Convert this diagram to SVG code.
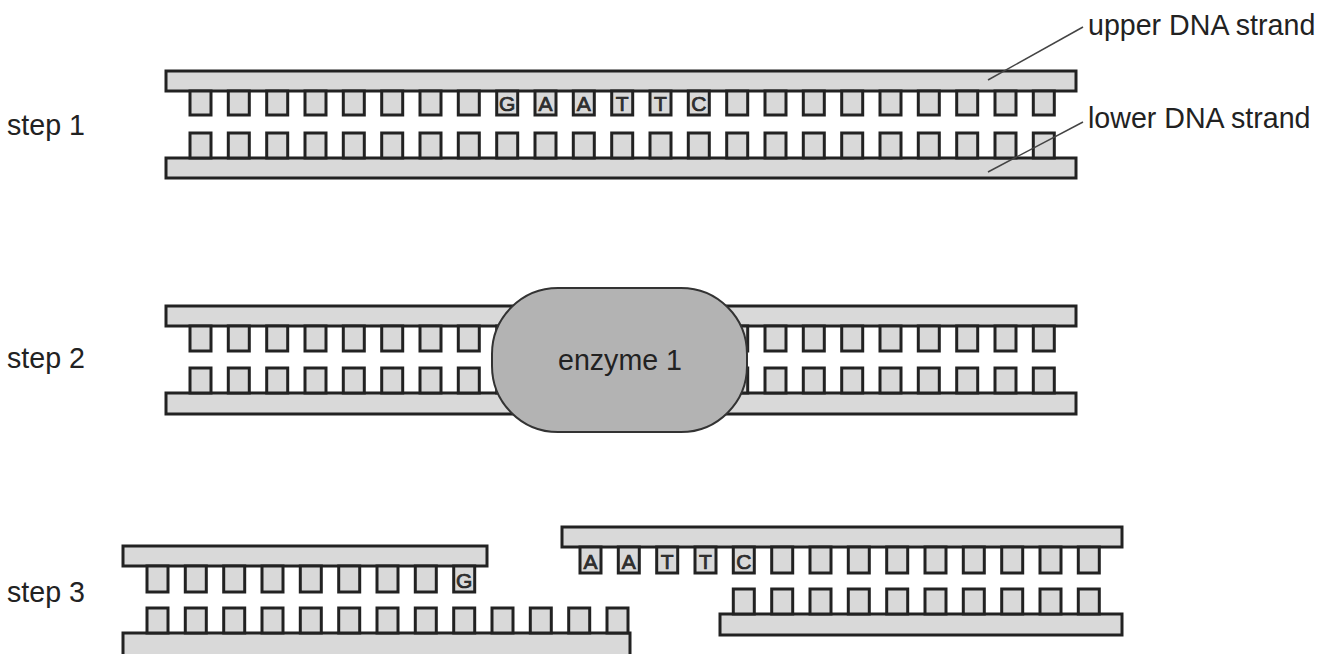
<svg xmlns="http://www.w3.org/2000/svg" width="1321" height="654" viewBox="0 0 1321 654">
<style>
.s{fill:#d9d9d9;stroke:#222;stroke-width:3}
.lbl{font-family:"Liberation Sans",Arial,sans-serif;font-size:28.6px;fill:#222}
.let{font-family:"Liberation Sans",Arial,sans-serif;font-size:21px;fill:#333;stroke:#222;stroke-width:0.7;text-anchor:middle}
.ld{stroke:#444;stroke-width:1.5;fill:none}
</style>
<defs>
<rect id="bu" class="s" x="0" y="0" width="21" height="24"/>
<rect id="bl" class="s" x="0" y="0" width="21" height="25"/>
</defs>
<rect x="0" y="0" width="1321" height="654" fill="#fff"/>

<g id="labels">
<text class="lbl" x="7" y="135">step 1</text>
<text class="lbl" x="7" y="368">step 2</text>
<text class="lbl" x="7" y="602">step 3</text>
<text class="lbl" x="1088" y="35">upper DNA strand</text>
<text class="lbl" x="1088" y="128">lower DNA strand</text>
</g>

<g id="step1">
<rect class="s" x="166" y="71" width="910" height="20"/>
<rect class="s" x="166" y="158" width="910" height="20"/>
<g transform="translate(0,91)">
<use href="#bu" x="190"/><use href="#bu" x="228.3"/><use href="#bu" x="266.7"/><use href="#bu" x="305"/><use href="#bu" x="343.3"/><use href="#bu" x="381.7"/><use href="#bu" x="420"/><use href="#bu" x="458.3"/><use href="#bu" x="496.7"/><use href="#bu" x="535"/><use href="#bu" x="573.3"/><use href="#bu" x="611.7"/><use href="#bu" x="650"/><use href="#bu" x="688.3"/><use href="#bu" x="726.7"/><use href="#bu" x="765"/><use href="#bu" x="803.3"/><use href="#bu" x="841.7"/><use href="#bu" x="880"/><use href="#bu" x="918.3"/><use href="#bu" x="956.7"/><use href="#bu" x="995"/><use href="#bu" x="1033.3"/>
</g>
<g transform="translate(0,133)">
<use href="#bl" x="190"/><use href="#bl" x="228.3"/><use href="#bl" x="266.7"/><use href="#bl" x="305"/><use href="#bl" x="343.3"/><use href="#bl" x="381.7"/><use href="#bl" x="420"/><use href="#bl" x="458.3"/><use href="#bl" x="496.7"/><use href="#bl" x="535"/><use href="#bl" x="573.3"/><use href="#bl" x="611.7"/><use href="#bl" x="650"/><use href="#bl" x="688.3"/><use href="#bl" x="726.7"/><use href="#bl" x="765"/><use href="#bl" x="803.3"/><use href="#bl" x="841.7"/><use href="#bl" x="880"/><use href="#bl" x="918.3"/><use href="#bl" x="956.7"/><use href="#bl" x="995"/><use href="#bl" x="1033.3"/>
</g>
<text class="let" x="507.2" y="111">G</text>
<text class="let" x="545.5" y="111">A</text>
<text class="let" x="583.8" y="111">A</text>
<text class="let" x="622.2" y="111">T</text>
<text class="let" x="660.5" y="111">T</text>
<text class="let" x="698.8" y="111">C</text>
</g>

<g id="step2">
<rect class="s" x="166" y="306" width="910" height="20"/>
<rect class="s" x="166" y="393" width="910" height="21"/>
<g transform="translate(0,326)">
<use href="#bl" x="190"/><use href="#bl" x="228.3"/><use href="#bl" x="266.7"/><use href="#bl" x="305"/><use href="#bl" x="343.3"/><use href="#bl" x="381.7"/><use href="#bl" x="420"/><use href="#bl" x="458.3"/><use href="#bl" x="496.7"/><use href="#bl" x="535"/><use href="#bl" x="573.3"/><use href="#bl" x="611.7"/><use href="#bl" x="650"/><use href="#bl" x="688.3"/><use href="#bl" x="726.7"/><use href="#bl" x="765"/><use href="#bl" x="803.3"/><use href="#bl" x="841.7"/><use href="#bl" x="880"/><use href="#bl" x="918.3"/><use href="#bl" x="956.7"/><use href="#bl" x="995"/><use href="#bl" x="1033.3"/>
</g>
<g transform="translate(0,368)">
<use href="#bl" x="190"/><use href="#bl" x="228.3"/><use href="#bl" x="266.7"/><use href="#bl" x="305"/><use href="#bl" x="343.3"/><use href="#bl" x="381.7"/><use href="#bl" x="420"/><use href="#bl" x="458.3"/><use href="#bl" x="496.7"/><use href="#bl" x="535"/><use href="#bl" x="573.3"/><use href="#bl" x="611.7"/><use href="#bl" x="650"/><use href="#bl" x="688.3"/><use href="#bl" x="726.7"/><use href="#bl" x="765"/><use href="#bl" x="803.3"/><use href="#bl" x="841.7"/><use href="#bl" x="880"/><use href="#bl" x="918.3"/><use href="#bl" x="956.7"/><use href="#bl" x="995"/><use href="#bl" x="1033.3"/>
</g>
</g>

<g id="enzyme1">
<rect x="492" y="288" width="255" height="144" rx="66" ry="66" fill="#b3b3b3" stroke="#333" stroke-width="2"/>
<text class="lbl" x="620" y="370" text-anchor="middle" fill="#333">enzyme 1</text>
</g>

<g id="step3-left">
<rect class="s" x="123" y="546" width="364" height="20"/>
<rect class="s" x="123" y="633" width="507" height="24"/>
<g transform="translate(0,566)">
<rect class="s" x="147" y="0" width="21" height="26"/><rect class="s" x="185.3" y="0" width="21" height="26"/><rect class="s" x="223.7" y="0" width="21" height="26"/><rect class="s" x="262" y="0" width="21" height="26"/><rect class="s" x="300.3" y="0" width="21" height="26"/><rect class="s" x="338.7" y="0" width="21" height="26"/><rect class="s" x="377" y="0" width="21" height="26"/><rect class="s" x="415.3" y="0" width="21" height="26"/><rect class="s" x="453.7" y="0" width="21" height="26"/>
</g>
<g transform="translate(0,608)">
<use href="#bl" x="147"/><use href="#bl" x="185.3"/><use href="#bl" x="223.7"/><use href="#bl" x="262"/><use href="#bl" x="300.3"/><use href="#bl" x="338.7"/><use href="#bl" x="377"/><use href="#bl" x="415.3"/><use href="#bl" x="453.7"/><use href="#bl" x="492"/><use href="#bl" x="530.3"/><use href="#bl" x="568.7"/><use href="#bl" x="607"/>
</g>
<text class="let" x="464.2" y="588">G</text>
</g>

<g id="step3-right">
<rect class="s" x="562" y="527" width="560" height="20"/>
<rect class="s" x="720" y="614" width="402" height="21"/>
<g transform="translate(0,547)">
<rect class="s" x="580" y="0" width="21" height="26"/><rect class="s" x="618.3" y="0" width="21" height="26"/><rect class="s" x="656.7" y="0" width="21" height="26"/><rect class="s" x="695" y="0" width="21" height="26"/><rect class="s" x="733.3" y="0" width="21" height="26"/><rect class="s" x="771.7" y="0" width="21" height="26"/><rect class="s" x="810" y="0" width="21" height="26"/><rect class="s" x="848.3" y="0" width="21" height="26"/><rect class="s" x="886.7" y="0" width="21" height="26"/><rect class="s" x="925" y="0" width="21" height="26"/><rect class="s" x="963.3" y="0" width="21" height="26"/><rect class="s" x="1001.7" y="0" width="21" height="26"/><rect class="s" x="1040" y="0" width="21" height="26"/><rect class="s" x="1078.3" y="0" width="21" height="26"/>
</g>
<g transform="translate(0,589)">
<use href="#bl" x="733.3"/><use href="#bl" x="771.7"/><use href="#bl" x="810"/><use href="#bl" x="848.3"/><use href="#bl" x="886.7"/><use href="#bl" x="925"/><use href="#bl" x="963.3"/><use href="#bl" x="1001.7"/><use href="#bl" x="1040"/><use href="#bl" x="1078.3"/>
</g>
<text class="let" x="590.5" y="569">A</text>
<text class="let" x="628.8" y="569">A</text>
<text class="let" x="667.2" y="569">T</text>
<text class="let" x="705.5" y="569">T</text>
<text class="let" x="743.8" y="569">C</text>
</g>

<g id="connectors">
<line class="ld" x1="1083" y1="27" x2="988" y2="80"/>
<line class="ld" x1="1083" y1="122" x2="988" y2="172"/>
</g>
</svg>
